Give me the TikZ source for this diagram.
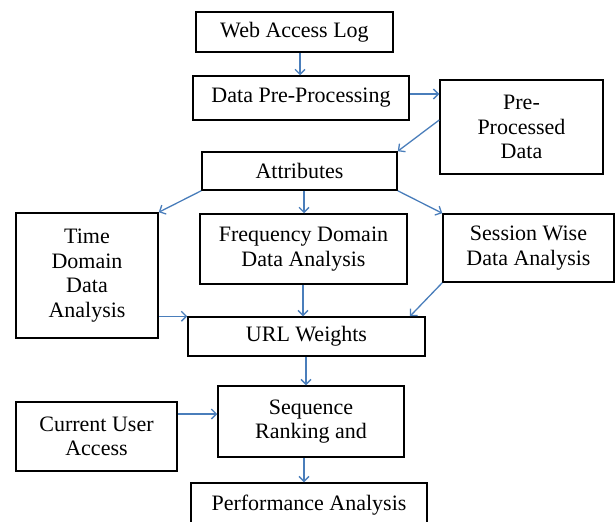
\documentclass[tikz,border=0pt]{standalone}
\usepackage{fontspec}
\setmainfont{Liberation Serif}
\usetikzlibrary{arrows.meta,calc}
\definecolor{arrblue}{RGB}{74,126,187}
\begin{document}
\begin{tikzpicture}[x=1pt,y=-1pt,
  box/.style={draw=black,line width=1.5pt,rectangle,inner sep=0pt,align=center,
    font=\fontsize{22}{24.5}\selectfont},
  arr/.style={draw=arrblue,line width=1.3pt,-{Straight Barb[length=5pt,width=10pt]}}]
\useasboundingbox (0,0) rectangle (616,522);
\node[box,minimum width=197pt,minimum height=40pt] (wal) at (294.5,32) {Web Access Log};
\node[box,minimum width=216pt,minimum height=44pt] (dpp) at (301,98) {Data Pre-Processing};
\node[box,minimum width=163pt,minimum height=94pt] (ppd) at (521.5,127) {Pre-\\Processed\\Data};
\node[box,minimum width=195pt,minimum height=38pt] (attr) at (299.5,171) {Attributes};
\node[box,minimum width=142pt,minimum height=125pt] (time) at (87,275.5) {Time\\Domain\\Data\\Analysis};
\node[box,minimum width=207pt,minimum height=70pt] (freq) at (303.5,249) {Frequency Domain\\Data Analysis};
\node[box,minimum width=171pt,minimum height=68pt] (sess) at (528.5,248) {Session Wise\\Data Analysis};
\node[box,minimum width=237pt,minimum height=39pt] (url) at (306.5,336.5) {URL Weights};
\node[box,minimum width=161pt,minimum height=69pt] (cua) at (96.5,436.5) {Current User\\Access};
\node[box,minimum width=186pt,minimum height=71pt] (seq) at (311,421.5) {Sequence\\Ranking and};
\node[box,minimum width=236pt,minimum height=44pt] (perf) at (309,505) {Performance Analysis};
\coordinate (xa) at (300,0);
\coordinate (ya) at (0,94);
\coordinate (yb) at (0,120);
\coordinate (xb) at (304,0);
\coordinate (xc) at (303,0);
\coordinate (xd) at (410,0);
\coordinate (xe) at (306,0);
\coordinate (yc) at (0,414);
\draw[arr] (wal.south -| xa) -- (dpp.north -| xa);
\draw[arr] (dpp.east |- ya) -- (ppd.west |- ya);
\draw[arr] (ppd.west |- yb) -- (attr.north east);
\draw[arr] (attr.south west) -- (time.north east);
\draw[arr] (attr.south -| xb) -- (freq.north -| xb);
\draw[arr] (attr.south east) -- (sess.north west);
\draw[arr] (freq.south -| xc) -- (url.north -| xc);
\draw[arr] (sess.south west) -- (url.north -| xd);
\draw[arr] (time.east |- url.north west) -- (url.north west);
\draw[arr] (url.south -| xe) -- (seq.north -| xe);
\draw[arr] (cua.east |- yc) -- (seq.west |- yc);
\draw[arr] (seq.south -| xb) -- (perf.north -| xb);
\end{tikzpicture}
\end{document}
